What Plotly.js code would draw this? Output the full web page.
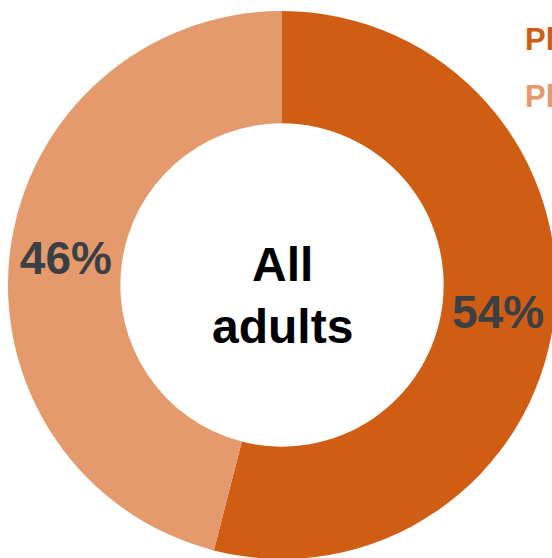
<!DOCTYPE html>
<html>
<head>
<meta charset="utf-8">
<script src="https://cdn.plot.ly/plotly-3.0.1.min.js"></script>
<style>
html,body{margin:0;padding:0;overflow:hidden;background:#fff;}
#chart{width:560px;height:562px;}
</style>
</head>
<body>
<div id="chart"></div>
<script>
const categories = ["Pl", "Pl "];
const values = [54, 46];
const colors = ["#D05D14", "#E49A6C"];
const centerLabel = "All<br>adults";

const W = 560, H = 562;
const cx = 282, cy = 285, r = 274;

const trace = {
  type: "pie",
  labels: categories,
  values: values,
  sort: false,
  direction: "clockwise",
  rotation: 0,
  hole: 0.59,
  marker: {colors: colors, line: {width: 0}},
  textinfo: "percent",
  textposition: "inside",
  insidetextorientation: "horizontal",
  textfont: {family: "Liberation Sans, Arial, sans-serif", size: 46, color: "#3A3F44", weight: "bold"},
  hoverinfo: "none",
  showlegend: false,
  domain: {x: [(cx - r) / W, (cx + r) / W], y: [(H - cy - r) / H, (H - cy + r) / H]}
};

const annotations = [
  {x: cx / W, y: 1 - 295 / H, xref: "paper", yref: "paper", text: "<b>" + centerLabel + "</b>",
   showarrow: false, font: {family: "Liberation Sans, Arial, sans-serif", size: 48, color: "#000"}, xanchor: "center", yanchor: "middle"},
  {x: 523 / W, y: 1 - 40 / H, xref: "paper", yref: "paper", text: "<b>" + categories[0] + "</b>",
   showarrow: false, font: {family: "Liberation Sans, Arial, sans-serif", size: 31, color: colors[0]}, xanchor: "left", yanchor: "middle"},
  {x: 523 / W, y: 1 - 97 / H, xref: "paper", yref: "paper", text: "<b>" + categories[1] + "</b>",
   showarrow: false, font: {family: "Liberation Sans, Arial, sans-serif", size: 31, color: colors[1]}, xanchor: "left", yanchor: "middle"}
];

Plotly.newPlot("chart", [trace], {
  width: W, height: H,
  margin: {l: 0, r: 0, t: 0, b: 0},
  paper_bgcolor: "#fff",
  annotations: annotations
}, {displayModeBar: false, staticPlot: true});
</script>
</body>
</html>
